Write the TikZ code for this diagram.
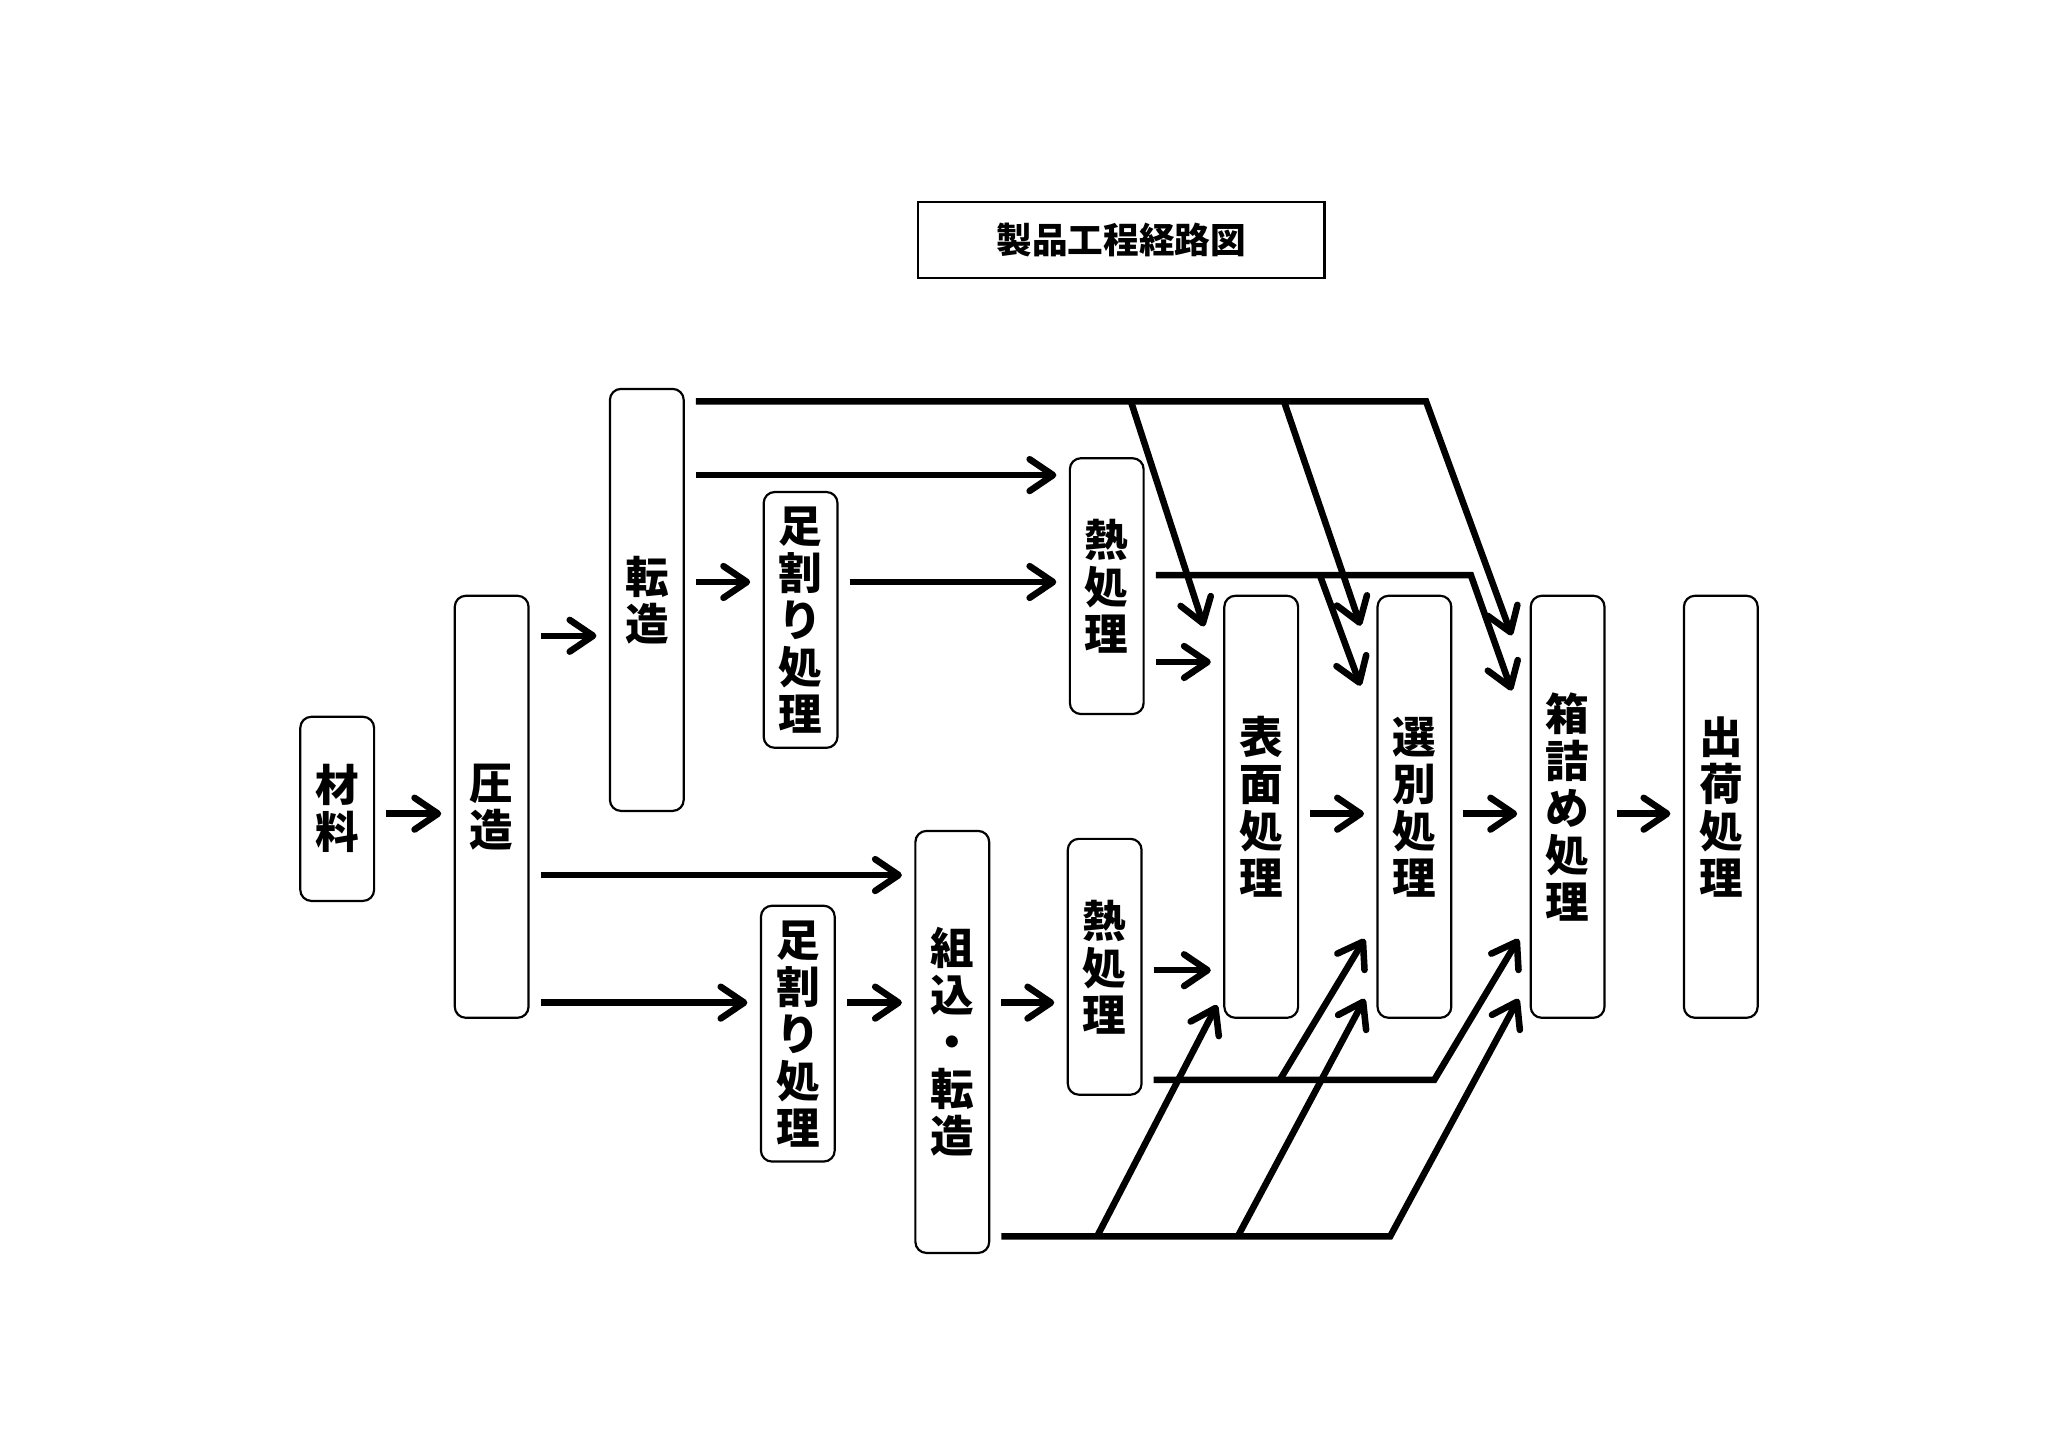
\documentclass[tikz,border=0pt]{standalone}
\usepackage{fontspec}
\setmainfont{Noto Sans CJK JP}
\usetikzlibrary{positioning,arrows.meta}

\begin{document}
\begin{tikzpicture}[
    box/.style={rectangle,draw,line width=0.9pt,rounded corners=0.16cm,minimum width=1.07cm,inner sep=0pt,align=center,font=\fontsize{18}{19.4}\selectfont\bfseries},
    line/.style={line width=2.7pt,-{Straight Barb[length=3.4mm,width=4.6mm,round]},shorten <=1.6mm},
    arr/.style={line,shorten >=1.8mm},
    branch/.style={line width=2.7pt,-{Straight Barb[length=3.4mm,width=4.6mm,round]}}
  ]

    \useasboundingbox (0,0) rectangle (29.7,21);

    \node(title) [rectangle,draw,line width=1pt,minimum width=5.89cm,minimum height=1.10cm,font=\fontsize{14.7}{16}\selectfont\bfseries] at (16.26,17.52) {製品工程経路図};

    \node(zairyo) [box,minimum height=2.67cm] at (4.89,9.27) {材\\料};
    \node(atsuzo) [box,minimum height=6.12cm] at (7.13,9.30) {圧\\造};
    \node(tenzo) [box,minimum height=6.12cm] at (9.38,12.30) {転\\造};
    \node(ashi1) [box,minimum height=3.71cm] at (11.61,12.01) {足\\割\\り\\処\\理};
    \node(netsu1) [box,minimum height=3.71cm] at (16.05,12.50) {熱\\処\\理};
    \node(kumikomi) [box,minimum height=6.12cm] at (13.81,5.89) {組\\込\\・\\転\\造};
    \node(ashi2) [box,minimum height=3.71cm] at (11.57,6.01) {足\\割\\り\\処\\理};
    \node(netsu2) [box,minimum height=3.71cm] at (16.02,6.98) {熱\\処\\理};
    \node(hyomen) [box,minimum height=6.12cm] at (18.29,9.30) {表\\面\\処\\理};
    \node(senbetsu) [box,minimum height=6.12cm,right=1.12cm of hyomen] {選\\別\\処\\理};
    \node(hakozume) [box,minimum height=6.12cm,right=1.12cm of senbetsu] {箱\\詰\\め\\処\\理};
    \node(shukka) [box,minimum height=6.12cm,right=1.12cm of hakozume] {出\\荷\\処\\理};

    \coordinate (lm) at (0,9.20);
    \coordinate (la) at (0,11.78);
    \coordinate (lb) at (0,8.31);
    \coordinate (lc) at (0,6.46);
    \coordinate (ld) at (0,6.93);
    \coordinate (le) at (0,14.11);
    \coordinate (lf) at (0,12.56);
    \coordinate (lg) at (0,11.40);

    \draw[arr] (zairyo.east |- lm) -- (atsuzo.west |- lm);
    \draw[arr] (atsuzo.east |- la) -- (tenzo.west |- la);
    \draw[arr] (atsuzo.east |- lb) -- (kumikomi.west |- lb);
    \draw[arr] (atsuzo.east |- lc) -- (ashi2.west |- lc);
    \draw[arr] (ashi2.east |- lc) -- (kumikomi.west |- lc);
    \draw[arr] (kumikomi.east |- lc) -- (netsu2.west |- lc);
    \draw[arr] (netsu2.east |- ld) -- (hyomen.west |- ld);
    \draw[arr] (tenzo.east |- le) -- (netsu1.west |- le);
    \draw[arr] (tenzo.east |- lf) -- (ashi1.west |- lf);
    \draw[arr] (ashi1.east |- lf) -- (netsu1.west |- lf);
    \draw[arr] (netsu1.east |- lg) -- (hyomen.west |- lg);
    \foreach \a/\b in {hyomen/senbetsu,senbetsu/hakozume,hakozume/shukka}
      \draw[arr] (\a.east |- lm) -- (\b.west |- lm);

    \coordinate (t1) at (16.40,15.18);
    \coordinate (t2) at (18.62,15.18);
    \coordinate (t3) at (20.68,15.18);
    \draw[line] (tenzo.east |- t1) -- (t3) -- ([xshift=-2.6mm,yshift=-5.9mm]hakozume.north west);
    \draw[branch] (t1) -- ([xshift=-2.8mm,yshift=-4.6mm]hyomen.north west);
    \draw[branch] (t2) -- ([xshift=-2.3mm,yshift=-4.5mm]senbetsu.north west);

    \coordinate (h1) at (19.14,12.66);
    \coordinate (h2) at (21.33,12.66);
    \draw[line] (netsu1.east |- h1) -- (h2) -- ([xshift=-2.6mm,yshift=-13.9mm]hakozume.north west);
    \draw[branch] (h1) -- ([xshift=-2.3mm,yshift=-13.2mm]senbetsu.north west);

    \coordinate (g1) at (18.56,5.34);
    \coordinate (g2) at (20.80,5.34);
    \draw[line] (netsu2.east |- g1) -- (g2) -- ([xshift=-1.6mm,yshift=11.6mm]hakozume.south west);
    \draw[branch] (g1) -- ([xshift=-1.7mm,yshift=11.6mm]senbetsu.south west);

    \coordinate (b1) at (15.91,3.07);
    \coordinate (b2) at (17.95,3.07);
    \coordinate (b3) at (20.16,3.07);
    \draw[line] (kumikomi.east |- b1) -- (b3) -- ([xshift=-1.6mm,yshift=2.9mm]hakozume.south west);
    \draw[branch] (b1) -- ([xshift=-0.9mm,yshift=2.0mm]hyomen.south west);
    \draw[branch] (b2) -- ([xshift=-1.7mm,yshift=2.9mm]senbetsu.south west);

  \end{tikzpicture}
\end{document}
